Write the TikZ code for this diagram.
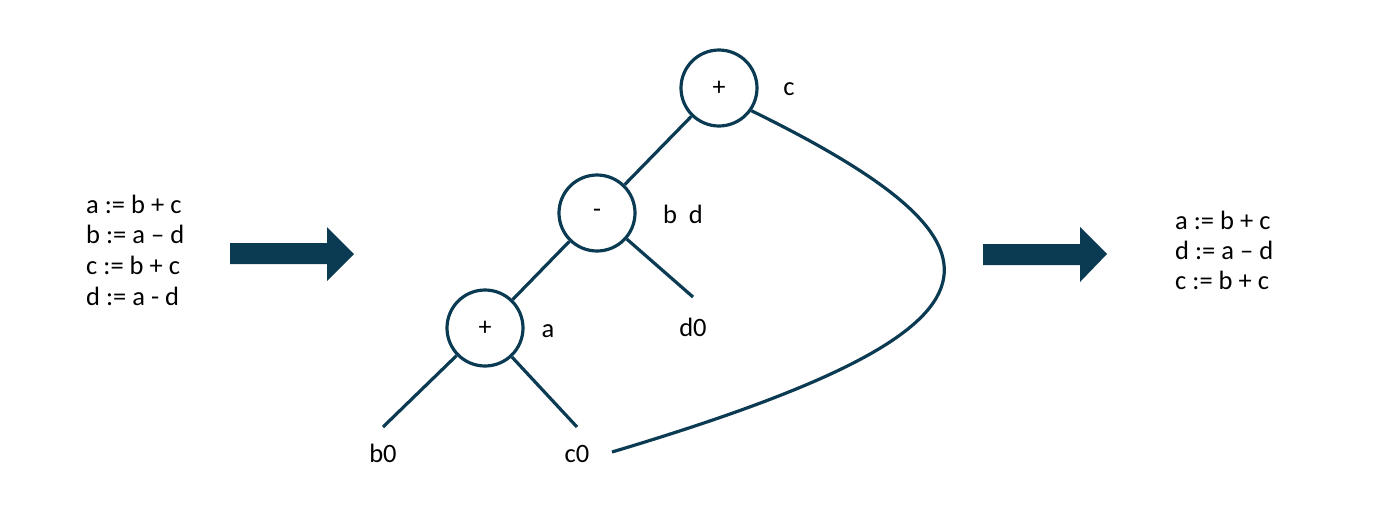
\documentclass[tikz,border=0pt]{standalone}
\usepackage{fontspec}
\setmainfont{Carlito}
\definecolor{navy}{HTML}{0B3A53}
\begin{document}
\begin{tikzpicture}[x=1pt,y=-1pt,
  op/.style={circle,draw=navy,line width=3.2pt,minimum size=76pt,inner sep=0pt,font=\fontsize{26}{30}\selectfont},
  lbl/.style={inner sep=0pt,anchor=base,font=\fontsize{26.5}{31}\selectfont},
  code/.style={inner sep=0pt,anchor=west,align=left,font=\fontsize{26.5}{30.7}\selectfont},
  edge/.style={draw=navy,line width=3.2pt},
  blk/.style={fill=navy}]
\useasboundingbox (0,0) rectangle (1400,531);
% code blocks
\node[code] (src) at (86,250) {a := b + c\\b := a – d\\c := b + c\\d := a - d};
\node[code,font=\fontsize{26.5}{30}\selectfont] (dst) at (1175,250) {a := b + c\\d := a – d\\c := b + c};
% block arrows
\fill[blk] (230,243) -- (327,243) -- (327,227) -- (354,254) -- (327,281) -- (327,264) -- (230,264) -- cycle;
\fill[blk] (983,244) -- (1080,244) -- (1080,227) -- (1107,254) -- (1080,282) -- (1080,265) -- (983,265) -- cycle;
% operator nodes
\node[op] (p1) at (719,88) {+};
\node[op] (m) at (597,213) {-};
\node[op] (p2) at (485,328) {+};
% labels
\node[lbl] (lc) at (789,95) {c};
\node[lbl] (lbd) at (683,223) {b~~d};
\node[lbl] (la) at (548,337) {a};
\node[lbl] (d0) at (693,336) {d0};
\node[lbl] (b0) at (383,462) {b0};
\node[lbl] (c0) at (577,462) {c0};
% edges
\draw[edge] (p1) -- (m);
\draw[edge] (m) -- (p2);
\draw[edge] (m) -- ([yshift=39pt]d0.base);
\draw[edge] (p2) -- ([yshift=35pt]b0.base);
\draw[edge] (p2) -- ([yshift=35pt]c0.base);
\draw[edge] (p1.-35) .. controls (1035,250) and (1020,330) .. ([xshift=35pt,yshift=10pt]c0.base);
\end{tikzpicture}
\end{document}
